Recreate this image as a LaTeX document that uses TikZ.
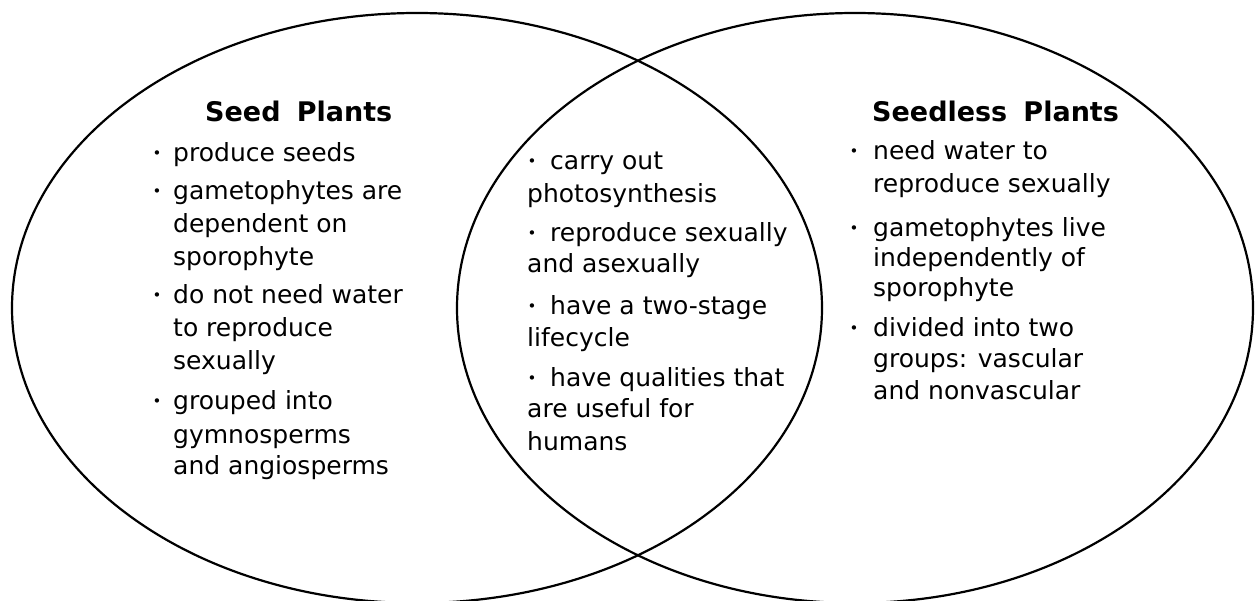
\documentclass[tikz,border=0pt]{standalone}
\usepackage{fontspec}
\setmainfont{DejaVu Sans}
\newcommand\tline[4]{\node[txt] (#1) at (#2,#3) {#4};}
\newcommand\bdot[3]{\node[bul] (#1) at (#2,#3) {\textbullet};}
\begin{document}
\begin{tikzpicture}[x=1pt,y=-1pt,
  txt/.style={anchor=base west, inner sep=0pt, font=\fontsize{25}{30}\selectfont},
  head/.style={anchor=base west, inner sep=0pt, font=\fontsize{27}{32}\selectfont\bfseries},
  bul/.style={anchor=base, inner sep=0pt, font=\fontsize{15}{15}\selectfont, yshift=3pt},
  ring/.style={draw=black, line width=2.2pt}]
\useasboundingbox (0,0) rectangle (1256,601);
\begin{scope}
  \clip (0,0) rectangle (1256,601);
  \draw[ring] (417,308) ellipse [x radius=405pt, y radius=295pt];
  \draw[ring] (855,308) ellipse [x radius=398pt, y radius=295pt];
\end{scope}
% left
\node[head] (hl) at (205,122) {Seed\hspace{0.6em}Plants};
\bdot{bl1}{157}{162}\bdot{bl2}{157}{200}\bdot{bl3}{157}{304}\bdot{bl4}{157}{410}
\tline{l1}{173}{162}{produce seeds}
\tline{l2}{173}{200}{gametophytes are}
\tline{l3}{173}{233}{dependent on}
\tline{l4}{173}{266}{sporophyte}
\tline{l5}{173}{304}{do not need water}
\tline{l6}{173}{337}{to reproduce}
\tline{l7}{173}{370}{sexually}
\tline{l8}{173}{410}{grouped into}
\tline{l9}{173}{443}{gymnosperms}
\tline{l10}{173}{475}{and angiosperms}
% middle
\bdot{bm1}{532}{170}\bdot{bm2}{532}{242}\bdot{bm3}{532}{315}\bdot{bm4}{532}{387}
\tline{m1}{550}{170}{carry out}
\tline{m2}{527}{203}{photosynthesis}
\tline{m3}{550}{242}{reproduce sexually}
\tline{m4}{527}{273}{and asexually}
\tline{m5}{550}{315}{have a two-stage}
\tline{m6}{527}{347}{lifecycle}
\tline{m7}{550}{387}{have qualities that}
\tline{m8}{527}{418}{are useful for}
\tline{m9}{527}{450}{humans}
% right
\node[head] (hr) at (872,122) {Seedless\hspace{0.6em}Plants};
\bdot{br1}{854}{160}\bdot{br2}{854}{237}\bdot{br3}{854}{337}
\tline{r1}{873}{160}{need water to}
\tline{r2}{873}{193}{reproduce sexually}
\tline{r3}{873}{237}{gametophytes live}
\tline{r4}{873}{267}{independently of}
\tline{r5}{873}{297}{sporophyte}
\tline{r6}{873}{337}{divided into two}
\tline{r7}{873}{368}{groups: vascular}
\tline{r8}{873}{400}{and nonvascular}
\end{tikzpicture}
\end{document}
